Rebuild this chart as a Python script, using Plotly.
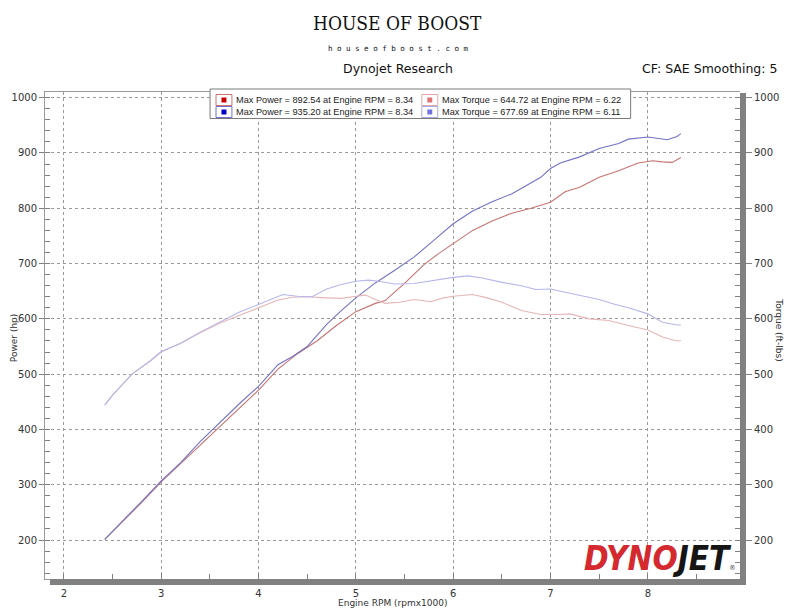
import plotly.graph_objects as go

# ---------------- data ----------------
rpm_pw1 = [2.42, 2.6, 2.8, 3.0, 3.2, 3.4, 3.6, 3.8, 4.0, 4.2, 4.4, 4.6, 4.8, 5.0, 5.2, 5.3, 5.5, 5.7, 5.85,
           6.0, 6.2, 6.4, 6.6, 6.8, 7.0, 7.15, 7.3, 7.5, 7.7, 7.9, 8.05, 8.15, 8.25, 8.34]
power_run1 = [201, 232, 268, 305, 338, 372, 405, 437, 471, 509, 537, 560, 588, 613, 628, 633, 664, 698, 718,
              736, 760, 777, 791, 800, 811, 830, 838, 856, 868, 882, 886, 884, 883, 892]

rpm_pw2 = [2.42, 2.6, 2.8, 3.0, 3.2, 3.4, 3.6, 3.8, 4.0, 4.2, 4.35, 4.5, 4.7, 4.85, 5.0, 5.2, 5.4, 5.6, 5.8,
           6.0, 6.2, 6.4, 6.6, 6.8, 6.9, 7.0, 7.1, 7.3, 7.5, 7.7, 7.8, 8.0, 8.1, 8.2, 8.3, 8.34]
power_run2 = [201, 233, 270, 307, 340, 378, 412, 446, 478, 517, 532, 550, 590, 615, 638, 665, 688, 712, 742,
              772, 795, 812, 826, 845, 856, 872, 882, 893, 908, 917, 925, 929, 926, 924, 930, 935]

rpm_tq1 = [2.42, 2.5, 2.7, 2.9, 3.0, 3.2, 3.4, 3.6, 3.8, 4.0, 4.2, 4.35, 4.5, 4.7, 4.85, 5.0, 5.1, 5.2, 5.3,
           5.45, 5.6, 5.77, 5.9, 6.0, 6.2, 6.35, 6.5, 6.7, 6.9, 7.1, 7.2, 7.4, 7.6, 7.8, 8.0, 8.15, 8.3, 8.34]
torque_run1 = [444, 462, 500, 525, 540, 556, 575, 592, 606, 620, 634, 639, 640, 638, 637, 641, 643, 635, 628,
               630, 635, 631, 638, 641, 644, 638, 630, 615, 608, 608, 609, 600, 597, 588, 580, 567, 560, 561]

rpm_tq2 = [2.42, 2.5, 2.7, 2.9, 3.0, 3.2, 3.4, 3.6, 3.8, 4.0, 4.15, 4.25, 4.4, 4.55, 4.7, 4.85, 5.0, 5.13,
           5.27, 5.4, 5.6, 5.8, 6.0, 6.15, 6.3, 6.5, 6.7, 6.85, 7.0, 7.15, 7.3, 7.5, 7.65, 7.8, 8.0, 8.15, 8.3, 8.34]
torque_run2 = [444, 462, 500, 526, 541, 556, 576, 594, 612, 626, 636, 644, 641, 640, 654, 662, 668, 670,
               667, 663, 664, 670, 675, 677.7, 674, 666, 660, 653, 654, 648, 642, 635, 627, 620, 609, 594, 589, 589]

legend_texts = [
    "Max Power = 892.54 at Engine RPM = 8.34",
    "Max Power = 935.20 at Engine RPM = 8.34",
    "Max Torque = 644.72 at Engine RPM = 6.22",
    "Max Torque = 677.69 at Engine RPM = 6.11",
]
y_ticks = [200, 300, 400, 500, 600, 700, 800, 900, 1000]
x_ticks = [2, 3, 4, 5, 6, 7, 8]

# ---------------- geometry helpers ----------------
W, H = 792, 612
L, R, T, B = 41, 740, 92, 579
PW, PH = R - L, B - T


def px(x):
    return (x - L) / PW


def py(y):
    return (B - y) / PH


C_P1, C_P2 = "#c87272", "#7272c8"
C_T1, C_T2 = "#e6b6b6", "#b6b6ec"

fig = go.Figure()
fig.add_trace(go.Scatter(x=rpm_tq1, y=torque_run1, mode="lines", line=dict(color=C_T1, width=1.1),
                         yaxis="y2", showlegend=False))
fig.add_trace(go.Scatter(x=rpm_tq2, y=torque_run2, mode="lines", line=dict(color=C_T2, width=1.1),
                         yaxis="y2", showlegend=False))
fig.add_trace(go.Scatter(x=rpm_pw1, y=power_run1, mode="lines", line=dict(color=C_P1, width=1.1),
                         showlegend=False))
fig.add_trace(go.Scatter(x=rpm_pw2, y=power_run2, mode="lines", line=dict(color=C_P2, width=1.1),
                         showlegend=False))

yr = [129.5, 1010.3]
xr = [1.806, 8.947]
tickfont = dict(family="DejaVu Sans", size=10, color="#333333")

fig.update_layout(
    width=W, height=H,
    margin=dict(l=L, r=W - R, t=T, b=H - B, pad=0),
    paper_bgcolor="white", plot_bgcolor="white",
    showlegend=False,
    xaxis=dict(range=xr, tickmode="array", tickvals=x_ticks, ticktext=[str(v) for v in x_ticks],
               showgrid=True, gridcolor="#9a9a9a", griddash="dot", gridwidth=1,
               ticks="outside", ticklen=5, tickcolor="#808080",
               showline=True, mirror=True, linecolor="#9a9a9a", linewidth=1,
               zeroline=False, tickfont=tickfont,
               minor=dict(tickmode="linear", tick0=0, dtick=0.5, ticks="inside", ticklen=5,
                          tickcolor="#808080", showgrid=False)),
    yaxis=dict(range=yr, tickmode="array", tickvals=y_ticks, ticktext=[str(v) for v in y_ticks],
               showgrid=True, gridcolor="#9a9a9a", griddash="dot", gridwidth=1,
               ticks="outside", ticklen=5, tickcolor="#808080",
               showline=True, linecolor="#9a9a9a", linewidth=1, zeroline=False,
               tickfont=tickfont,
               minor=dict(tickmode="linear", tick0=0, dtick=20, ticks="inside", ticklen=5,
                          tickcolor="#808080", showgrid=False)),
    yaxis2=dict(range=yr, overlaying="y", side="right", tickmode="array", tickvals=y_ticks,
                ticktext=[str(v) for v in y_ticks], showgrid=False,
                ticks="outside", ticklen=11, tickcolor="#808080",
                showline=False, zeroline=False, tickfont=tickfont,
                minor=dict(tickmode="linear", tick0=0, dtick=20, ticks="inside", ticklen=5,
                           tickcolor="#808080", showgrid=False)),
)

shapes = []
# shadow bars (right & bottom)
shapes.append(dict(type="rect", xref="paper", yref="paper", x0=px(740), x1=px(746), y0=py(584),
                   y1=py(93), fillcolor="#808080", line=dict(width=0), layer="above"))
shapes.append(dict(type="rect", xref="paper", yref="paper", x0=px(46), x1=px(746), y0=py(585),
                   y1=py(579), fillcolor="#808080", line=dict(width=0), layer="above"))
# legend box
shapes.append(dict(type="rect", xref="paper", yref="paper", x0=px(207), x1=px(630), y0=py(118.5),
                   y1=py(89), fillcolor="white", line=dict(color="#7a7a7a", width=1), layer="above"))

annotations = []
legend_items = [
    (213, 100, "#d07070", "#cc0000", legend_texts[0]),
    (213, 112, "#7070d0", "#0000cc", legend_texts[1]),
    (420, 100, "#e8a8a8", "#e07272", legend_texts[2]),
    (420, 112, "#a8a8e8", "#7272e0", legend_texts[3]),
]
for bx, cy, bcol, icol, txt in legend_items:
    shapes.append(dict(type="rect", xref="paper", yref="paper", x0=px(bx), x1=px(bx + 16),
                       y0=py(cy + 5.5), y1=py(cy - 5.5), fillcolor="white",
                       line=dict(color=bcol, width=1), layer="above"))
    shapes.append(dict(type="rect", xref="paper", yref="paper", x0=px(bx + 5.5), x1=px(bx + 10.5),
                       y0=py(cy + 2.5), y1=py(cy - 2.5), fillcolor=icol,
                       line=dict(width=0), layer="above"))
    annotations.append(dict(xref="paper", yref="paper", x=px(bx + 18), y=py(cy), xanchor="left",
                            yanchor="middle", showarrow=False, text=txt,
                            font=dict(family="Liberation Sans, Arial", size=9.2, color="#222222")))

# header
annotations.append(dict(xref="paper", yref="paper", x=px(396), y=py(23), xanchor="center", yanchor="middle",
                        showarrow=False, text="HOUSE OF BOOST",
                        font=dict(family="DejaVu Serif Condensed, DejaVu Serif", size=19,
                                  color="#111111")))
annotations.append(dict(xref="paper", yref="paper", x=px(396), y=py(49), xanchor="center", yanchor="middle",
                        showarrow=False, text="h o u s e o f b o o s t . c o m",
                        font=dict(family="DejaVu Sans Mono", size=7.5, color="#111111")))
annotations.append(dict(xref="paper", yref="paper", x=px(396), y=py(69), xanchor="center", yanchor="middle",
                        showarrow=False, text="Dynojet Research",
                        font=dict(family="DejaVu Sans", size=12.5, color="#111111")))
annotations.append(dict(xref="paper", yref="paper", x=px(779), y=py(69), xanchor="right", yanchor="middle",
                        showarrow=False, text="CF: SAE Smoothing: 5",
                        font=dict(family="DejaVu Sans", size=12.5, color="#111111")))
# axis titles
annotations.append(dict(xref="paper", yref="paper", x=px(10), y=py(338), xanchor="center", yanchor="middle",
                        showarrow=False, text="Power (hp)", textangle=-90,
                        font=dict(family="DejaVu Sans", size=9, color="#333333")))
annotations.append(dict(xref="paper", yref="paper", x=px(779), y=py(330), xanchor="center", yanchor="middle",
                        showarrow=False, text="Torque (ft-lbs)", textangle=90,
                        font=dict(family="DejaVu Sans", size=9, color="#333333")))
annotations.append(dict(xref="paper", yref="paper", x=px(391), y=py(603), xanchor="center", yanchor="middle",
                        showarrow=False, text="Engine RPM (rpmx1000)",
                        font=dict(family="DejaVu Sans", size=9, color="#333333")))
# Dynojet logo
annotations.append(dict(xref="paper", yref="paper", x=px(738), y=py(580), xanchor="right", yanchor="bottom",
                        showarrow=False,
                        text="<b><i><span style='color:#d42a2f'>DYNO</span><span style='color:#151515'>JET</span></i></b>"
                             "<span style='font-size:7px;color:#444'>®</span>",
                        font=dict(family="DejaVu Sans Condensed, DejaVu Sans", size=33)))

fig.update_layout(shapes=shapes, annotations=annotations)
fig.write_html("out.html", config={"displayModeBar": False},
               post_script="document.body.style.margin='0';")
